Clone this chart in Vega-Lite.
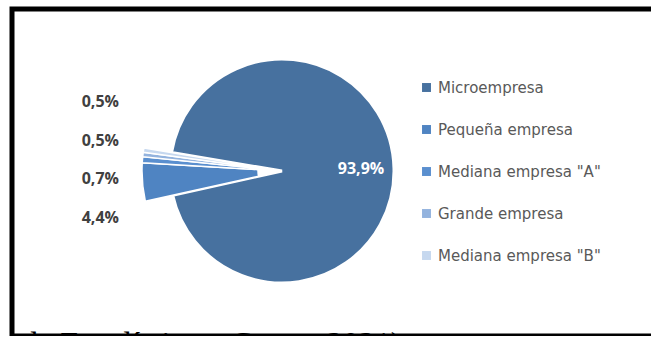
{
  "$schema": "https://vega.github.io/schema/vega-lite/v6.json",
  "width": 700,
  "height": 327,
  "autosize": {"type": "none"},
  "padding": {"left": 12, "top": 9, "right": 0, "bottom": 0},
  "background": "white",
  "config": {
    "view": {"stroke": "#000000", "strokeWidth": 5},
    "locale": {"number": {"decimal": ",", "thousands": ".", "grouping": [3], "currency": ["", ""]}}
  },
  "title": {
    "text": "de Estadística y Censo, 2021)",
    "orient": "bottom",
    "anchor": "start",
    "frame": "group",
    "font": "Liberation Serif",
    "fontSize": 32,
    "fontWeight": "normal",
    "color": "#000000",
    "baseline": "alphabetic",
    "offset": 18,
    "dx": 10
  },
  "data": {
    "values": [
      {"Categoria": "Microempresa", "Porcentaje": 0.939, "Orden": 1},
      {"Categoria": "Pequeña empresa", "Porcentaje": 0.044, "Orden": 2},
      {"Categoria": "Mediana empresa \"A\"", "Porcentaje": 0.007, "Orden": 3},
      {"Categoria": "Grande empresa", "Porcentaje": 0.005, "Orden": 4},
      {"Categoria": "Mediana empresa \"B\"", "Porcentaje": 0.005, "Orden": 5}
    ]
  },
  "encoding": {
    "theta": {"field": "Porcentaje", "type": "quantitative", "stack": true, "scale": {"range": [-1.405, 4.878]}},
    "order": {"field": "Orden", "type": "quantitative"}
  },
  "layer": [
    {
      "mark": {"type": "arc", "x": 270, "y": 162, "radius": 112, "stroke": "white", "strokeWidth": 3},
      "encoding": {
        "color": {
          "field": "Categoria",
          "type": "nominal",
          "scale": {
            "domain": ["Microempresa", "Pequeña empresa", "Mediana empresa \"A\"", "Grande empresa", "Mediana empresa \"B\""],
            "range": ["#47719f", "#4f84c2", "#5a8fcf", "#93b3de", "#c6d8ef"]
          },
          "legend": {
            "orient": "none",
            "legendX": 407,
            "legendY": 71,
            "title": null,
            "padding": 0,
            "labelFont": "DejaVu Sans",
            "labelFontSize": 15,
            "labelColor": "#595959",
            "labelOffset": 4,
            "labelLimit": 300,
            "rowPadding": 26,
            "symbolType": "square",
            "symbolSize": 80,
            "symbolStrokeWidth": 0,
            "symbolOpacity": 1,
            "encode": {
              "symbols": {
                "enter": {
                  "shape": {"signal": "datum.value === 'Microempresa' || datum.value === 'Pequeña empresa' ? 'circle' : 'square'"},
                  "size": {"signal": "datum.value === 'Microempresa' || datum.value === 'Pequeña empresa' ? 22 : 80"}
                },
                "update": {
                  "shape": {"signal": "datum.value === 'Microempresa' || datum.value === 'Pequeña empresa' ? 'circle' : 'square'"},
                  "size": {"signal": "datum.value === 'Microempresa' || datum.value === 'Pequeña empresa' ? 22 : 80"},
                  "opacity": {"value": 1}
                }
              }
            }
          }
        },
        "opacity": {"condition": {"test": "datum.Categoria === 'Microempresa'", "value": 1}, "value": 0}
      }
    },
    {
      "mark": {"type": "arc", "x": 270, "y": 162, "radius": 140, "radius2": 24, "stroke": "white", "strokeWidth": 1.5},
      "encoding": {
        "color": {"field": "Categoria", "type": "nominal"},
        "opacity": {"condition": {"test": "datum.Categoria === 'Microempresa'", "value": 0}, "value": 1}
      }
    },
    {
      "mark": {"type": "text", "x": 270, "y": 162, "radius": 79, "font": "Open Sans", "fontSize": 16, "fontWeight": "bold", "color": "white"},
      "encoding": {
        "text": {"field": "Porcentaje", "type": "quantitative", "format": ".1%"},
        "opacity": {"condition": {"test": "datum.Categoria === 'Microempresa'", "value": 1}, "value": 0}
      }
    },
    {
      "transform": [{"filter": "datum.Categoria !== 'Microempresa'"}],
      "mark": {"type": "text", "x": 107, "align": "right", "baseline": "middle", "font": "Open Sans", "fontSize": 16, "fontWeight": "bold", "color": "#404040"},
      "encoding": {
        "theta": null,
        "order": null,
        "y": {
          "field": "Categoria",
          "type": "nominal",
          "axis": null,
          "scale": {"type": "point", "padding": 0, "domain": ["Mediana empresa \"B\"", "Grande empresa", "Mediana empresa \"A\"", "Pequeña empresa"], "range": [93, 209]}
        },
        "text": {"field": "Porcentaje", "type": "quantitative", "format": ".1%"}
      }
    }
  ]
}
